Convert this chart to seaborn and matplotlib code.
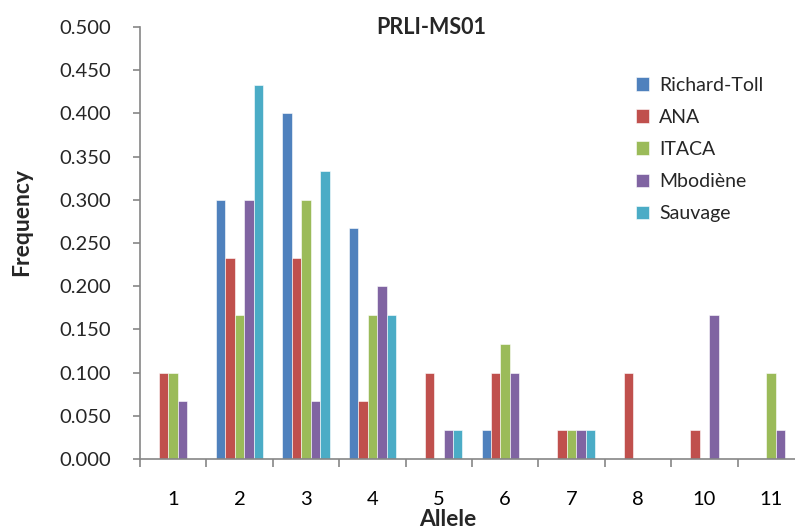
import matplotlib
matplotlib.use("Agg")
import matplotlib.pyplot as plt
import seaborn as sns
import pandas as pd
import numpy as np

alleles = ["1", "2", "3", "4", "5", "6", "7", "8", "10", "11"]
populations = ["Richard-Toll", "ANA", "ITACA", "Mbodiène", "Sauvage"]

richard_toll = [0.000, 0.300, 0.400, 0.267, 0.000, 0.033, 0.000, 0.000, 0.000, 0.000]
ana          = [0.100, 0.233, 0.233, 0.067, 0.100, 0.100, 0.033, 0.100, 0.033, 0.000]
itaca        = [0.100, 0.167, 0.300, 0.167, 0.000, 0.133, 0.033, 0.000, 0.000, 0.100]
mbodiene     = [0.067, 0.300, 0.067, 0.200, 0.033, 0.100, 0.033, 0.000, 0.167, 0.033]
sauvage      = [0.000, 0.433, 0.333, 0.167, 0.033, 0.000, 0.033, 0.000, 0.000, 0.000]

colors = ["#4F81BD", "#C0504D", "#9BBB59", "#8064A2", "#4BACC6"]

series = [richard_toll, ana, itaca, mbodiene, sauvage]
rows = []
for pop, vals in zip(populations, series):
    for a, v in zip(alleles, vals):
        rows.append({"Allele": a, "Frequency": v, "Population": pop})
df = pd.DataFrame(rows)

sns.set_style("white")
plt.rcParams["font.family"] = ["Lato", "DejaVu Sans"]

fig = plt.figure(figsize=(7.95, 5.31), dpi=100)
ax = fig.add_axes([140 / 795, 1 - 459 / 531, (804 - 140) / 795, (459 - 27) / 531])

sns.barplot(data=df, x="Allele", y="Frequency", hue="Population",
            order=alleles, hue_order=populations, palette=colors, saturation=1,
            width=0.71, edgecolor="white", linewidth=0.4, ax=ax)

ax.set_ylim(0, 0.5)
ax.set_xlim(-0.5, len(alleles) - 0.5)
ax.set_yticks(np.arange(0, 0.501, 0.05))
ax.set_yticklabels([f"{v:.3f}" for v in np.arange(0, 0.501, 0.05)])

ax.set_xticks(range(len(alleles)))
ax.set_xticklabels(alleles)
ax.set_xticks(np.arange(-0.5, len(alleles), 1.0), minor=True)
ax.tick_params(axis="x", which="major", length=0, pad=23, labelsize=14.5, colors="black")
ax.tick_params(axis="x", which="minor", length=6, width=1.2, color="#868686", direction="out", bottom=True)
ax.tick_params(axis="y", which="major", length=5, width=1.2, color="#868686", direction="out",
               pad=16, labelsize=14.5, left=True)

for side in ["top", "right"]:
    ax.spines[side].set_visible(False)
for side in ["left", "bottom"]:
    ax.spines[side].set_color("#868686")
    ax.spines[side].set_linewidth(1.2)

ax.set_xlabel("")
ax.set_ylabel("")
fig.text(22 / 795, 1 - 222 / 531, "Frequency", rotation=90, ha="center", va="center",
         fontsize=16.5, fontweight="bold")
fig.text(448 / 795, 1 - 520 / 531, "Allele", ha="center", va="center",
         fontsize=16.5, fontweight="bold")
fig.text(431 / 795, 1 - 27 / 531, "PRLI-MS01", ha="center", va="center",
         fontsize=15.5, fontweight="bold")

handles, labels = ax.get_legend_handles_labels()
ax.legend(handles, labels, loc="upper left", bbox_to_anchor=(628 / 795, 1 - 69 / 531),
          bbox_transform=fig.transFigure, frameon=False, fontsize=14,
          handlelength=0.7, handleheight=0.7, handletextpad=0.5, labelspacing=0.78,
          borderaxespad=0)

fig.savefig("out.png", dpi=100)
